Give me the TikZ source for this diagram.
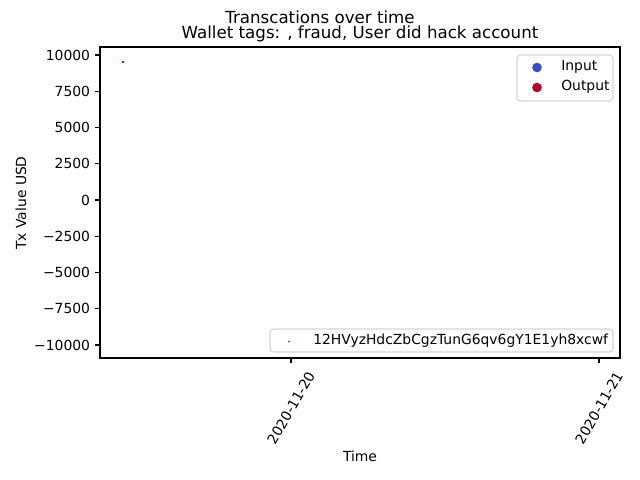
\documentclass[tikz,border=0pt]{standalone}
\usepackage{fontspec}
\setmainfont{DejaVu Sans}
\begin{document}
\begin{tikzpicture}[x=0.72pt,y=-0.72pt,
  spine/.style={line width=0.8pt,black},
  tickmark/.style={line width=0.8pt,black},
  ticklab/.style={font=\fontsize{10}{12}\selectfont,inner sep=0pt},
  legbox/.style={draw=black!20,fill=white,fill opacity=0.8,draw opacity=0.8,rounded corners=2.5pt,line width=0.8pt},
  legtext/.style={font=\fontsize{10}{12}\selectfont,inner sep=0pt,anchor=west},
  titlefont/.style={font=\fontsize{12}{14}\selectfont,inner sep=0pt}]
\useasboundingbox[fill=white] (0,0) rectangle (640,480);
% titles
\node[titlefont,anchor=base] (sup) at (320,23) {Transcations over time};
\node[titlefont,anchor=base] (ttl) at (360,38) {Wallet tags: , fraud, User did hack account};
% axes frame
\coordinate (ul) at (100,47);
\coordinate (lr) at (620,358);
% data points
\fill[fill=blue!30!white,opacity=0.5] (597,344) rectangle (599,346);
\fill[fill={rgb,255:red,200;green,20;blue,60}] (122.2,61.2) rectangle (124.3,63.3);
% y ticks
\foreach \v/\lab in {10000/10000,7500/7500,5000/5000,2500/2500,0/0,-2500/\textminus2500,-5000/\textminus5000,-7500/\textminus7500,-10000/\textminus10000}{
  \pgfmathsetmacro{\yy}{200-\v*0.0145}
  \draw[tickmark] (100,\yy) -- (95.1,\yy);
  \node[ticklab,anchor=east] at (90.3,\yy) {\lab};
}
% x ticks
\foreach \xx/\lab in {291/2020-11-20,599/2020-11-21}{
  \draw[tickmark] (\xx,358) -- (\xx,362.9);
  \node[ticklab,rotate=60] at (\xx,408) {\lab};
}
% axis labels
\node[ticklab,rotate=90] (ylab) at (21,203) {Tx Value USD};
\node[ticklab] (xlab) at (360,456) {Time};
% legend 1
\draw[legbox] (517,55) rectangle (613,101);
\fill[fill={rgb,255:red,59;green,76;blue,192}] (537,67.5) circle (4.8);
\fill[fill={rgb,255:red,180;green,4;blue,38}] (537,87.5) circle (4.8);
\node[legtext] (lin) at (561,67) {Input};
\node[legtext] (lout) at (561,87) {Output};
% legend 2
\draw[legbox] (270,329) rectangle (613,352);
\fill[fill={rgb,255:red,31;green,119;blue,180}] (289,341.5) circle (1.2);
\node[legtext] (lw) at (313,340.5) {12HVyzHdcZbCgzTunG6qv6gY1E1yh8xcwf};
% spines
\draw[spine] (ul) rectangle (lr);
\end{tikzpicture}
\end{document}
